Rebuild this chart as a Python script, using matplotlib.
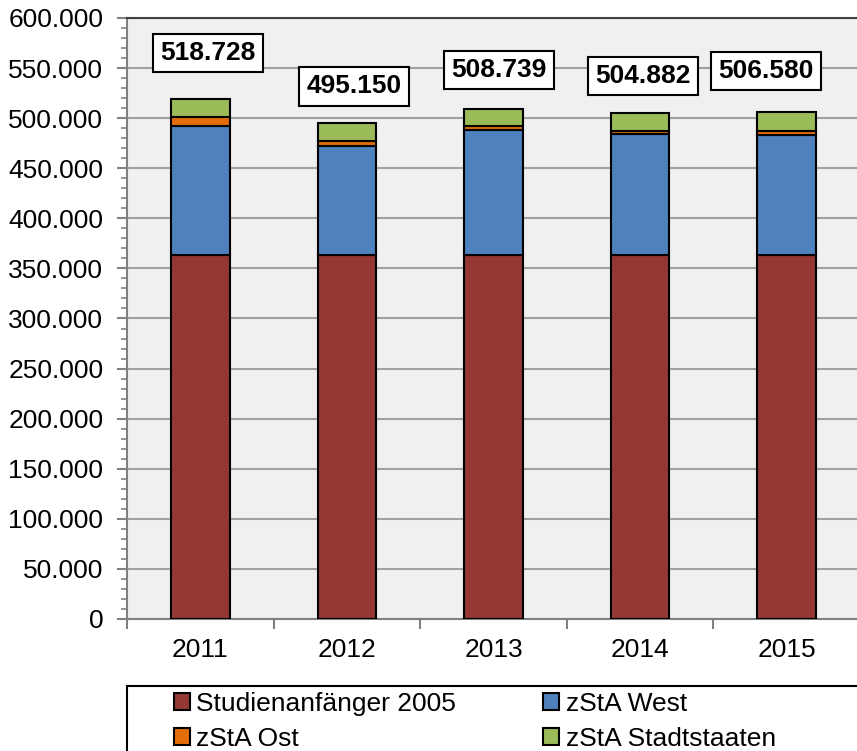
import numpy as np
import matplotlib
matplotlib.use("Agg")
import matplotlib.pyplot as plt
from matplotlib.ticker import MultipleLocator, FuncFormatter
from matplotlib.patches import Rectangle

plt.rcParams['font.family'] = ['Liberation Sans', 'DejaVu Sans']

years = ['2011', '2012', '2013', '2014', '2015']
base_2005 = [363300, 363300, 363300, 363300, 363300]
west = [129000, 109000, 125000, 120700, 119700]
ost = [9000, 5000, 3400, 3000, 4000]
stadt = [17428, 17850, 17039, 17882, 19580]
totals = ['518.728', '495.150', '508.739', '504.882', '506.580']
# where the total boxes sit (x offset from bar, y in data units)
label_dx = [0.05, 0.05, 0.04, 0.02, -0.14]
label_y = [565000, 532000, 548000, 542000, 547000]

series = [
    ('Studienanfänger 2005', base_2005, '#953735'),
    ('zStA West', west, '#4F81BD'),
    ('zStA Ost', ost, '#E46C0A'),
    ('zStA Stadtstaaten', stadt, '#9BBB59'),
]

fig = plt.figure(figsize=(8.57, 7.51), dpi=100)
ax = fig.add_axes([127 / 857, 1 - 619 / 751, 733 / 857, 601 / 751])
ax.set_facecolor('#F0F0F0')

x = np.arange(len(years))
bottom = np.zeros(len(years))
handles = []
for name, vals, col in series:
    b = ax.bar(x, vals, 0.4, bottom=bottom, color=col, edgecolor='black',
               linewidth=1.5, label=name, zorder=3)
    handles.append(b)
    bottom += np.array(vals)

for i, t in enumerate(totals):
    ax.text(x[i] + label_dx[i], label_y[i], t, ha='center', va='center',
            fontsize=19, fontweight='bold', zorder=5,
            bbox=dict(boxstyle='square,pad=0.28', fc='white', ec='black', lw=1.5))

ax.set_xlim(-0.5, 4.5)
ax.set_ylim(0, 600000)
ax.yaxis.set_major_locator(MultipleLocator(50000))
ax.yaxis.set_minor_locator(MultipleLocator(10000))
ax.yaxis.set_major_formatter(FuncFormatter(lambda v, p: f'{int(v):,}'.replace(',', '.')))
ax.grid(axis='y', color='#A0A0A0', linewidth=1.5, zorder=1)
ax.set_axisbelow(True)

ax.set_xticks(x)
ax.set_xticklabels(years)
ax.set_xticks(np.arange(-0.5, 5, 1), minor=True)
ax.tick_params(axis='x', which='major', length=0, pad=14, labelsize=19)
ax.tick_params(axis='x', which='minor', length=7, width=1.5, color='#808080')
ax.tick_params(axis='y', which='major', length=7, width=1.5, color='#808080',
               labelsize=19, pad=10)
ax.tick_params(axis='y', which='minor', length=4, width=1.2, color='#808080')

for s in ['left', 'bottom']:
    ax.spines[s].set_color('#808080')
    ax.spines[s].set_linewidth(1.5)
ax.spines['top'].set_color('#404040')
ax.spines['top'].set_linewidth(1.5)
ax.spines['right'].set_visible(False)

# legend frame running past the right edge
fig.patches.append(Rectangle((127 / 857, -0.05), 1.0, 1 - 686 / 751 + 0.05,
                             transform=fig.transFigure, fill=False,
                             ec='black', lw=1.5))
# row-major order like the original: base, West / Ost, Stadtstaaten
order = [0, 2, 1, 3]
leg = fig.legend(handles=[handles[k] for k in order], loc='upper left', ncol=2,
                 bbox_to_anchor=(174 / 857, 1 - 692 / 751), frameon=False,
                 fontsize=19, handlelength=0.6, handleheight=0.6,
                 handletextpad=0.25, labelspacing=0.42, columnspacing=3.3,
                 borderpad=0, borderaxespad=0)

plt.savefig('out.png', dpi=100)
